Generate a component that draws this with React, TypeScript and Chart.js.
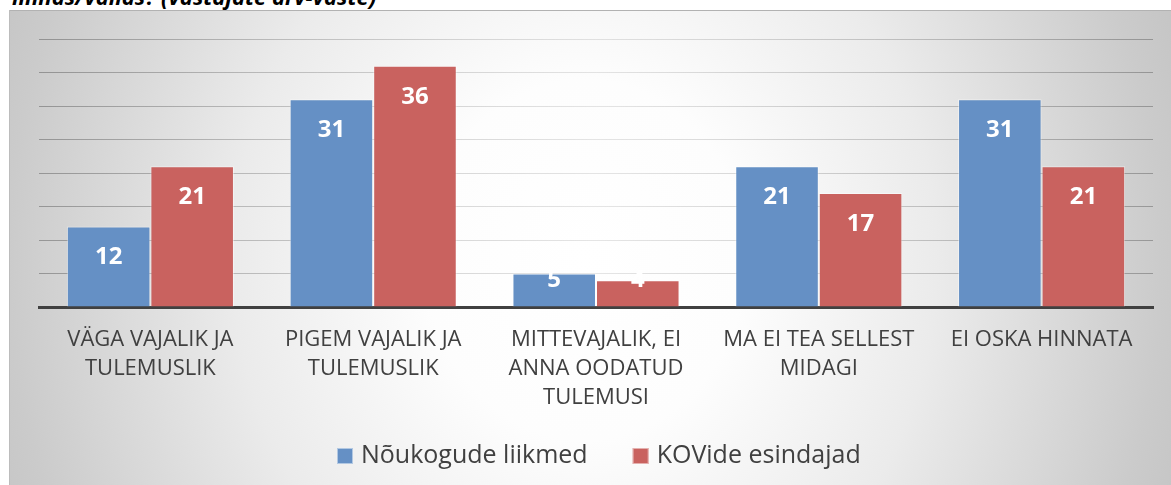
import React, { useEffect, useRef } from 'react';
import { Chart, registerables } from 'chart.js';

Chart.register(...registerables);

const categories: string[][] = [
  ['VÄGA VAJALIK JA', 'TULEMUSLIK'],
  ['PIGEM VAJALIK JA', 'TULEMUSLIK'],
  ['MITTEVAJALIK, EI', 'ANNA OODATUD', 'TULEMUSI'],
  ['MA EI TEA SELLEST', 'MIDAGI'],
  ['EI OSKA HINNATA'],
];
const seriesNames = ['Nõukogude liikmed', 'KOVide esindajad'];
const councilValues = [12, 31, 5, 21, 31];
const kovValues = [21, 36, 4, 17, 21];
const yMin = 0;
const yMax = 40;
const yStep = 5;
const titleText = 'linnas/vallas? (vastajate arv-vaste)';

const BLUE = '#6590c5';
const RED = '#c9625f';
const FONT = "'Open Sans', sans-serif";

const bgPlugin = {
  id: 'bg',
  beforeDraw(chart: any) {
    const { ctx, width, height } = chart;
    ctx.save();
    const cx = 576, cy = 250, rx = 640, ry = 720;
    ctx.translate(cx, cy);
    ctx.scale(1, ry / rx);
    const g = ctx.createRadialGradient(0, 0, 0, 0, 0, rx);
    g.addColorStop(0, '#ffffff');
    g.addColorStop(0.25, '#fdfdfd');
    g.addColorStop(0.55, '#ebebeb');
    g.addColorStop(0.9, '#cbcbcb');
    g.addColorStop(1, '#c4c4c4');
    ctx.fillStyle = g;
    ctx.fillRect(-cx, -cy * rx / ry, width, height * rx / ry + 10);
    ctx.restore();
    ctx.save();
    ctx.fillStyle = '#b2b2b2';
    ctx.fillRect(0, 0, width, 1);
    ctx.fillStyle = '#bcbcbc';
    ctx.fillRect(0, 0, 1, height);
    ctx.restore();
  },
};

const labelsPlugin = {
  id: 'barLabels',
  afterDatasetsDraw(chart: any) {
    const { ctx } = chart;
    ctx.save();
    ctx.font = `bold 24px ${FONT}`;
    ctx.fillStyle = '#ffffff';
    ctx.textAlign = 'center';
    ctx.textBaseline = 'middle';
    chart.data.datasets.forEach((ds: any, di: number) => {
      const meta = chart.getDatasetMeta(di);
      meta.data.forEach((el: any, i: number) => {
        const y = Math.min(el.y + 31, el.base - 26);
        ctx.fillText(String(ds.data[i]), el.x, y);
      });
    });
    ctx.restore();
  },
};

const legendPlugin = {
  id: 'customLegend',
  afterDraw(chart: any) {
    const { ctx } = chart;
    ctx.save();
    ctx.font = `25px ${FONT}`;
    ctx.textBaseline = 'middle';
    ctx.textAlign = 'left';
    let x = 328;
    const y = 446;
    const s = 16;
    chart.data.datasets.forEach((ds: any) => {
      ctx.fillStyle = ds.backgroundColor;
      ctx.fillRect(x, y - s / 2, s, s);
      ctx.strokeStyle = 'rgba(255,255,255,0.5)';
      ctx.lineWidth = 1;
      ctx.strokeRect(x + 0.5, y - s / 2 + 0.5, s - 1, s - 1);
      ctx.fillStyle = '#404040';
      ctx.fillText(ds.label, x + 24, y);
      x += 24 + ctx.measureText(ds.label).width + 45;
    });
    ctx.restore();
  },
};

export default function App() {
  const ref = useRef<HTMLCanvasElement | null>(null);
  useEffect(() => {
    if (!ref.current) return;
    const chart = new Chart(ref.current, {
      type: 'bar',
      data: {
        labels: categories,
        datasets: [
          {
            label: seriesNames[0],
            data: councilValues,
            backgroundColor: BLUE,
            borderColor: 'rgba(255,255,255,0.45)',
            borderWidth: 1,
          },
          {
            label: seriesNames[1],
            data: kovValues,
            backgroundColor: RED,
            borderColor: 'rgba(255,255,255,0.45)',
            borderWidth: 1,
          },
        ],
      },
      options: {
        responsive: false,
        animation: false,
        devicePixelRatio: 1,
        layout: { padding: { left: 30, right: 18, top: 29, bottom: 0 } },
        datasets: { bar: { categoryPercentage: 0.75, barPercentage: 1 } },
        plugins: {
          legend: { display: false },
          tooltip: { enabled: false },
          title: { display: false },
        },
        scales: {
          x: {
            grid: { display: false, drawTicks: false },
            border: { display: true, color: '#404040', width: 3 },
            ticks: {
              color: '#404040',
              font: { family: FONT, size: 22, lineHeight: 1.32 },
              padding: 18,
              maxRotation: 0,
              autoSkip: false,
            },
            afterFit(scale: any) {
              scale.height = 178;
            },
          },
          y: {
            min: yMin,
            max: yMax,
            ticks: { display: false, stepSize: yStep },
            border: { display: false },
            grid: {
              drawTicks: false,
              lineWidth: 1,
              color: (c: any) => {
                const ch = c.chart;
                const area = ch.chartArea;
                if (!area) return 'rgba(0,0,0,0.18)';
                const g = ch.ctx.createLinearGradient(area.left, 0, area.right, 0);
                g.addColorStop(0, 'rgba(0,0,0,0.28)');
                g.addColorStop(0.5, 'rgba(0,0,0,0.1)');
                g.addColorStop(1, 'rgba(0,0,0,0.26)');
                return g;
              },
            },
          },
        },
      },
      plugins: [bgPlugin, labelsPlugin, legendPlugin],
    } as any);
    return () => chart.destroy();
  }, []);

  return (
    <div style={{ position: 'fixed', left: 0, top: 0, width: 1171, height: 485, overflow: 'hidden', background: '#ffffff' }}>
      <div
        style={{
          position: 'absolute',
          left: 12,
          top: -15,
          font: `italic bold 22px/22px ${FONT}`,
          color: '#000000',
          whiteSpace: 'nowrap',
        }}
      >
        {titleText}
      </div>
      <canvas ref={ref} width={1162} height={475} style={{ position: 'absolute', left: 9, top: 10, display: 'block' }} />
    </div>
  );
}
